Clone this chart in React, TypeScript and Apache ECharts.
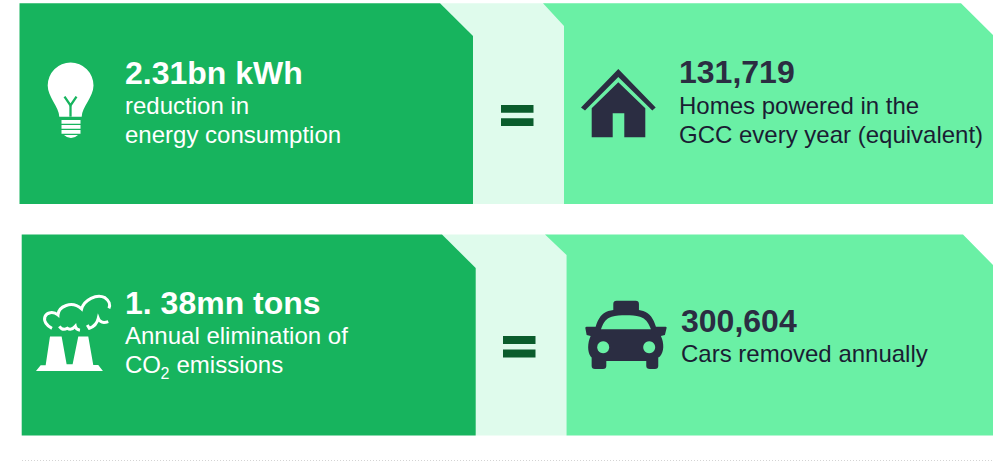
import React, { useEffect, useRef } from "react";
import * as echarts from "echarts";

const headlines = ["2.31bn kWh", "1. 38mn tons"];
const leftLines = [["reduction in", "energy consumption"], ["Annual elimination of"]];
const co2Parts = ["CO", "2", "emissions"];
const equivalents = ["131,719", "300,604"];
const rightLines = [["Homes powered in the", "GCC every year (equivalent)"], ["Cars removed annually"]];
const equalsSign = "=";

const DARK = "#17B45E";
const PALE = "#DFFBEC";
const BRIGHT = "#6AF0A5";
const NAVY = "#2B2D42";
const INK = "#1A1D33";
const EQ = "#0A5C2C";
const FONT = "'Liberation Sans', Arial, sans-serif";

const G = echarts.graphic as any;
G.registerShape("bulbIcon", G.extendPath("M59.3 116.7 C59 107 47.7 97 47.7 85.5 A22.9 22.9 0 0 1 93.5 85.5 C93.5 97 82 107 81.7 116.7 Z M61.5 120 L80.5 120 L80.5 123.7 L61.5 123.7 Z M61.5 125 L80.5 125 L80.5 128.7 L61.5 128.7 Z M61.5 130 L80.5 130 L80.5 133.7 L61.5 133.7 Z M64 135 L78 135 Q75 138 71 138 Q67 138 64 135 Z", {}));
G.registerShape("roofIcon", G.extendPath("M618.3 69 L655.7 107.5 L652.3 110.5 L618.3 77 L585 110.5 L581 107.5 Z", {}));
G.registerShape("houseIcon", G.extendPath("M618.3 82.3 L645.3 108.3 L645.3 137.3 L624.3 137.3 L624.3 113.3 L612.7 113.3 L612.7 137.3 L591.7 137.3 L591.7 108.3 Z", {}));
G.registerShape("carIcon", G.extendPath("M115 60 L115 42 Q115 32 125 32 L182 32 Q192 32 192 42 L192 60 L205 63 C225 70 235 85 243 110 L272 110 Q276 110 275 114 L270 135 L258 138 C268 160 268 185 255 200 L250 203 L250 228 Q250 237 240 237 L225 237 Q214 237 214 228 L214 213 L94 213 L94 228 Q94 237 84 237 L60 237 Q50 237 50 228 L50 203 L47 200 C37 185 37 160 47 138 L35 135 L31 114 Q31 110 35 110 L62 110 C70 85 80 70 100 63 Z", {}));
G.registerShape("carWindow", G.extendPath("M78 118 C85 95 95 85 110 80 C135 74 170 74 195 80 C210 85 220 95 228 118 Z", {}));
G.registerShape("towersIcon", G.extendPath("M18 258 L32 241 L47 241 L60 155 L95 155 L110 238 L128 238 L145 155 L175 155 L190 240 L205 240 L219 258 Z", {}));
G.registerShape("cloudMain", G.extendPath("M66 130 C50 122 40 108 45 95 C50 82 70 78 84 90 C85 65 125 45 155 72 C162 45 200 25 225 38 C238 47 242 60 237 70", {}));
G.registerShape("cloudMid", G.extendPath("M88 124 Q98 138 112 130 Q124 138 136 124 Q138 134 150 136", {}));
G.registerShape("cloudRight", G.extendPath("M172 120 L178 130 Q200 122 205 100 Q212 118 235 110", {}));

function poly(points: number[][], fill: string) {
  return { type: "polygon", shape: { points }, style: { fill }, silent: true };
}
function rect(x: number, y: number, width: number, height: number, fill: string) {
  return { type: "rect", shape: { x, y, width, height }, style: { fill }, silent: true };
}
function label(text: string, x: number, baseline: number, size: number, fill: string, bold = false) {
  return {
    type: "text",
    x,
    y: baseline - size * 0.345,
    silent: true,
    style: {
      text,
      fill,
      font: `${bold ? "bold " : ""}${size}px ${FONT}`,
      align: "left",
      verticalAlign: "middle",
    },
  };
}

function buildGraphics() {
  const els: any[] = [];
  // Row 1 panels
  els.push(poly([[440, 3.3], [546, 3.3], [564, 24], [564, 204], [473, 204]], PALE));
  els.push(poly([[19.5, 3.3], [440, 3.3], [473, 36], [473, 204], [19.5, 204]], DARK));
  els.push(poly([[543, 3.3], [961, 3.3], [993, 35], [993, 204], [564, 204], [564, 26]], BRIGHT));
  // Row 2 panels
  els.push(poly([[442, 234.5], [548, 234.5], [566.5, 255], [566.5, 435.5], [475.7, 435.5]], PALE));
  els.push(poly([[21.7, 234.5], [442, 234.5], [475.7, 268], [475.7, 435.5], [21.7, 435.5]], DARK));
  els.push(poly([[545, 234.5], [963, 234.5], [993, 265], [993, 435.5], [566.5, 435.5], [566.5, 255]], BRIGHT));
  // Equals signs
  els.push(rect(501, 105, 32.5, 7.8, EQ), rect(501, 118.3, 32.5, 7.8, EQ));
  els.push(rect(503, 336, 32.5, 8, EQ), rect(503, 349.6, 32.5, 8, EQ));
  // Bulb
  els.push({ type: "bulbIcon", style: { fill: "#fff" }, silent: true });
  els.push({
    type: "polyline",
    shape: { points: [[64.5, 96.7], [70.5, 105.5], [76.5, 96.7]] },
    style: { stroke: DARK, fill: "none", lineWidth: 2.3 },
    silent: true,
  });
  els.push({
    type: "line",
    shape: { x1: 70.5, y1: 105.5, x2: 70.5, y2: 116.7 },
    style: { stroke: DARK, lineWidth: 2.3 },
    silent: true,
  });
  // Factory
  const fx = { x: 30, y: 285, scaleX: 1 / 3, scaleY: 1 / 3, silent: true };
  els.push({ type: "towersIcon", ...fx, style: { fill: "#fff" } });
  for (const t of ["cloudMain", "cloudMid", "cloudRight"]) {
    els.push({ type: t, ...fx, style: { fill: "none", stroke: "#fff", lineWidth: 9 } });
  }
  // House
  els.push({ type: "roofIcon", style: { fill: NAVY }, silent: true });
  els.push({ type: "houseIcon", style: { fill: NAVY }, silent: true });
  // Car
  const cx = { x: 575, y: 290, scaleX: 1 / 3, scaleY: 1 / 3, silent: true };
  els.push({ type: "carIcon", ...cx, style: { fill: NAVY } });
  els.push({ type: "carWindow", ...cx, style: { fill: BRIGHT } });
  els.push({ type: "circle", shape: { cx: 603.2, cy: 347.3, r: 6 }, style: { fill: BRIGHT }, silent: true });
  els.push({ type: "circle", shape: { cx: 649.2, cy: 347.3, r: 6 }, style: { fill: BRIGHT }, silent: true });
  // Left texts
  els.push(label(headlines[0], 125, 84.3, 32, "#fff", true));
  els.push(label(leftLines[0][0], 125, 113.7, 24, "#fff"));
  els.push(label(leftLines[0][1], 125, 142.7, 24, "#fff"));
  els.push(label(headlines[1], 125, 314.5, 32, "#fff", true));
  els.push(label(leftLines[1][0], 125, 344, 24, "#fff"));
  els.push(label(co2Parts[0], 125, 373, 24, "#fff"));
  els.push(label(co2Parts[1], 160.5, 379, 16, "#fff"));
  els.push(label(co2Parts[2], 176.5, 373, 24, "#fff"));
  // Right texts
  els.push(label(equivalents[0], 679, 83.5, 32, NAVY, true));
  els.push(label(rightLines[0][0], 679, 114, 24, INK));
  els.push(label(rightLines[0][1], 679, 143, 24, INK));
  els.push(label(equivalents[1], 681, 331.7, 32, NAVY, true));
  els.push(label(rightLines[1][0], 681, 361.7, 24, INK));
  // Dotted rule
  els.push({
    type: "line",
    shape: { x1: 22, y1: 460.5, x2: 993, y2: 460.5 },
    style: { stroke: "#d4d4d4", lineWidth: 1, lineDash: [1, 2] },
    silent: true,
  });
  return els;
}

export default function App() {
  const ref = useRef<HTMLDivElement>(null);
  useEffect(() => {
    const chart = echarts.init(ref.current!, undefined, { renderer: "svg" });
    chart.setOption({
      animation: false,
      backgroundColor: "#ffffff",
      aria: { enabled: true, label: { description: `${headlines.join(", ")} ${equalsSign} ${equivalents.join(", ")}` } },
      graphic: { elements: buildGraphics() },
    });
    return () => chart.dispose();
  }, []);
  return <div ref={ref} style={{ position: "absolute", left: 0, top: 0, width: 993, height: 461 }} />;
}
